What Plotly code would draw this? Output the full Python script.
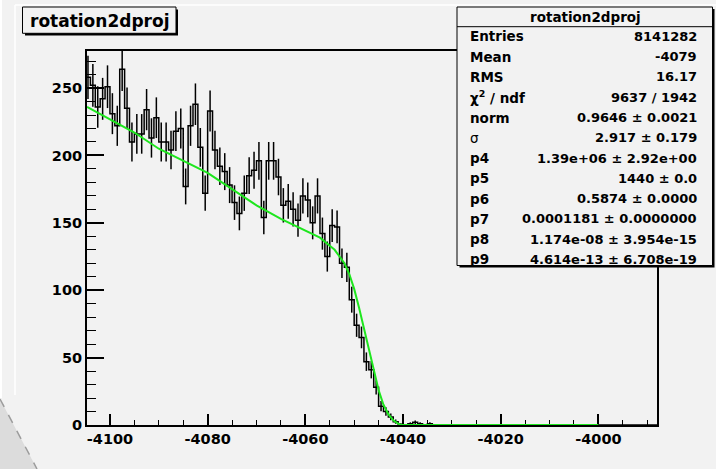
import numpy as np
import plotly.graph_objects as go

# ---- histogram: unit-width bins, lower edges from -4105 up to -3989 ----
bin_lower_edges = np.arange(-4105, -3988)
counts = (
    [258, 252, 236, 242, 251, 231, 222, 264, 235, 210, 216, 216, 234, 213, 228, 210,
     210, 204, 218, 220, 177, 222, 238, 206, 172, 233, 204, 192, 188, 178, 165, 157,
     172, 185, 189, 196, 154, 196, 196, 184, 163, 166, 160, 152, 170, 167, 150, 170,
     142, 125, 148, 147, 120, 117, 93, 74, 65, 47, 41, 28, 14, 10, 6, 2.5,
     0.5, 0, 1, 2, 1, 0, 1]
    + [0] * 46
)

# ---- fitted function, sampled along x ----
fit_x = [-4104.7, -4100, -4095, -4090, -4085, -4080, -4075, -4070, -4065, -4060,
         -4057, -4055, -4054, -4053, -4052, -4051, -4050, -4049, -4048, -4047,
         -4046, -4045, -4044, -4043, -4042, -4041, -4040.3, -4000]
fit_y = [236, 227, 217, 205, 196, 187, 175, 163, 153, 144,
         139, 133, 130, 125, 120, 112, 101, 87, 72, 55,
         40, 26, 15, 8, 3.5, 1, 0, 0]

# ---- axes ----
x_range = [-4104.7, -3988.0]
y_range = [0, 277.5]
x_tick_vals = [-4100, -4080, -4060, -4040, -4020, -4000]
x_tick_text = ["-4100", "-4080", "-4060", "-4040", "-4020", "-4000"]
y_tick_vals = [0, 50, 100, 150, 200, 250]

# ---- statistics box ----
hist_name = "rotation2dproj"
stat_labels = ["Entries", "Mean", "RMS", "χ<sup>2</sup> / ndf", "norm", "σ",
               "p4", "p5", "p6", "p7", "p8", "p9"]
stat_values = ["8141282", "-4079", "16.17", "9637 / 1942", "0.9646 ± 0.0021",
               "2.917 ± 0.179", "1.39e+06 ± 2.92e+00", "1440 ± 0.0",
               "0.5874 ± 0.0000", "0.0001181 ± 0.0000000",
               "1.174e-08 ± 3.954e-15", "4.614e-13 ± 6.708e-19"]

# ---- page geometry (pixels) ----
FIG_W, FIG_H = 716, 469
L, R, T, B = 87, 59, 51, 44
PW, PH = FIG_W - L - R, FIG_H - T - B
BG = "#f2f2f2"
FONT = "DejaVu Sans"


def fx(px):
    return (px - L) / PW


def fy(py):
    return (T + PH - py) / PH


counts = np.asarray(counts, dtype=float)
edges = np.append(bin_lower_edges, bin_lower_edges[-1] + 1)
centers = bin_lower_edges + 0.5
errors = np.sqrt(counts)

fig = go.Figure()

# histogram outline
fig.add_trace(go.Scatter(
    x=edges, y=np.append(counts, counts[-1]),
    mode="lines", line=dict(color="black", width=1.5, shape="hv"),
    hoverinfo="skip", showlegend=False,
))

# per-bin error bars
nz = counts > 0
fig.add_trace(go.Scatter(
    x=centers[nz], y=counts[nz], mode="markers",
    marker=dict(size=1, color="black"),
    error_y=dict(type="data", array=errors[nz], visible=True,
                 color="black", thickness=1.5, width=0),
    showlegend=False,
))

# fit curve
fig.add_trace(go.Scatter(
    x=fit_x, y=fit_y, mode="lines",
    line=dict(color="#1ee61e", width=2),
    cliponaxis=False, showlegend=False,
))

shapes = []
# canvas edge highlights and bottom-left wedge
shapes.append(dict(type="line", xref="paper", yref="paper",
                   x0=fx(15), x1=fx(716), y0=fy(5), y1=fy(5),
                   line=dict(color="white", width=1.5)))
shapes.append(dict(type="line", xref="paper", yref="paper",
                   x0=fx(15), x1=fx(15), y0=fy(5), y1=fy(395),
                   line=dict(color="white", width=1.5)))
shapes.append(dict(type="line", xref="paper", yref="paper",
                   x0=fx(1), x1=fx(1), y0=fy(0), y1=fy(398),
                   line=dict(color="white", width=2)))
shapes.append(dict(type="path", xref="paper", yref="paper",
                   path=f"M {fx(0)},{fy(399)} L {fx(37)},{fy(469)} L {fx(0)},{fy(469)} Z",
                   fillcolor="#dcdcdc", line=dict(width=0)))
shapes.append(dict(type="line", xref="paper", yref="paper",
                   x0=fx(0), y0=fy(399), x1=fx(37), y1=fy(469),
                   line=dict(color="#9c9c9c", width=1.5, dash="dash")))

# title box with shadow
shapes.append(dict(type="rect", xref="paper", yref="paper",
                   x0=fx(25), x1=fx(178), y0=fy(9.5), y1=fy(35.5),
                   fillcolor="black", line=dict(width=0)))
shapes.append(dict(type="rect", xref="paper", yref="paper",
                   x0=fx(22.5), x1=fx(176), y0=fy(7), y1=fy(33.3),
                   fillcolor=BG, line=dict(color="black", width=1)))

# statistics box with shadow
shapes.append(dict(type="rect", xref="paper", yref="paper",
                   x0=fx(459.5), x1=fx(714.5), y0=fy(9), y1=fy(267.5),
                   fillcolor="black", line=dict(width=0)))
shapes.append(dict(type="rect", xref="paper", yref="paper",
                   x0=fx(457), x1=fx(712.5), y0=fy(7), y1=fy(265.5),
                   fillcolor=BG, line=dict(color="black", width=1)))
shapes.append(dict(type="line", xref="paper", yref="paper",
                   x0=fx(457), x1=fx(712.5), y0=fy(26.7), y1=fy(26.7),
                   line=dict(color="black", width=1)))

annotations = [
    dict(text=hist_name, xref="paper", yref="paper", x=fx(99.5), y=fy(20.5),
         xanchor="center", yanchor="middle", showarrow=False,
         font=dict(family=FONT, size=17, color="black", weight="bold")),
    dict(text=hist_name, xref="paper", yref="paper", x=fx(585), y=fy(16.7),
         xanchor="center", yanchor="middle", showarrow=False,
         font=dict(family=FONT, size=13.5, color="black", weight="bold")),
]
row0, row_step = 36.5, 20.25
for i, (lab, val) in enumerate(zip(stat_labels, stat_values)):
    yy = fy(row0 + i * row_step)
    annotations.append(dict(text=lab, xref="paper", yref="paper", x=fx(467.5), y=yy,
                            xanchor="left", yanchor="middle", showarrow=False,
                            font=dict(family=FONT, size=13.5, color="black",
                                      weight="normal" if lab == "σ" else "bold")))
    annotations.append(dict(text=val, xref="paper", yref="paper", x=fx(699), y=yy,
                            xanchor="right", yanchor="middle", showarrow=False,
                            font=dict(family=FONT, size=13, color="black", weight="bold")))

tick_font = dict(family=FONT, size=14.5, color="black", weight="bold")

fig.update_layout(
    width=FIG_W, height=FIG_H,
    margin=dict(l=L, r=R, t=T, b=B, pad=0),
    paper_bgcolor=BG, plot_bgcolor=BG,
    showlegend=False,
    shapes=shapes,
    annotations=annotations,
    xaxis=dict(
        range=x_range, tickvals=x_tick_vals, ticktext=x_tick_text,
        ticks="inside", ticklen=11, tickwidth=1.5, tickcolor="black",
        minor=dict(ticks="inside", dtick=5, tick0=-4100, ticklen=5.5,
                   tickwidth=1.2, tickcolor="black", showgrid=False),
        showline=True, linewidth=2, linecolor="black", mirror=True,
        showgrid=False, zeroline=False, tickfont=tick_font,
        layer="below traces",
    ),
    yaxis=dict(
        range=y_range, tickvals=y_tick_vals,
        ticks="inside", ticklen=17, tickwidth=1.5, tickcolor="black",
        minor=dict(ticks="inside", dtick=10, tick0=0, ticklen=8.5,
                   tickwidth=1.2, tickcolor="black", showgrid=False),
        showline=True, linewidth=2, linecolor="black", mirror=True,
        showgrid=False, zeroline=False, tickfont=tick_font,
        layer="below traces",
    ),
)

fig.write_html("out.html")
